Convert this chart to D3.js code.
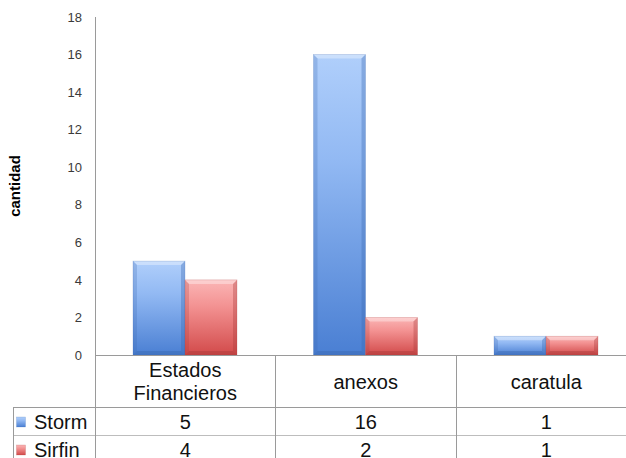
<!DOCTYPE html>
<html><head><meta charset="utf-8">
<script src="https://cdn.jsdelivr.net/npm/d3@7"></script>
<style>body{margin:0;background:#fff}svg{display:block;font-family:"Liberation Sans",Arial,sans-serif}</style>
</head><body><svg id="c" width="626" height="458"></svg>
<script>
const categories = ["Estados Financieros", "anexos", "caratula"];
const categoryLines = [["Estados", "Financieros"], ["anexos"], ["caratula"]];
const seriesNames = ["Storm", "Sirfin"];
const stormValues = [5, 16, 1];
const sirfinValues = [4, 2, 1];
const yTicks = [0, 2, 4, 6, 8, 10, 12, 14, 16, 18];
const yTitle = "cantidad";

(function () {
const svg = d3.select("#c");
const pLeft = 95, pTop = 17, pBottom = 355, catW = 180.5;
const pRight = pLeft + catW * categories.length;
const y = d3.scaleLinear().domain([0, 18]).range([pBottom, pTop]);
const x0 = d3.scaleBand().domain(categories).range([pLeft, pRight]).paddingInner(0).paddingOuter(0);
const x1 = d3.scaleBand().domain(seriesNames).range([38, 142]).padding(0);
const series = [
  {name: "Storm", values: stormValues, c: ["#b0cffb", "#92b9f3", "#4a7fd3"], edge: "#3a68b0"},
  {name: "Sirfin", values: sirfinValues, c: ["#fbb6b6", "#f39292", "#d24a4a"], edge: "#a83a3a"}
];
const defs = svg.append("defs");
series.forEach((s, i) => {
  const g = defs.append("linearGradient").attr("id", "g" + i).attr("x1", 0).attr("x2", 0).attr("y1", 0).attr("y2", 1);
  g.append("stop").attr("offset", "0%").attr("stop-color", s.c[0]);
  g.append("stop").attr("offset", "35%").attr("stop-color", s.c[1]);
  g.append("stop").attr("offset", "100%").attr("stop-color", s.c[2]);
});

const yAxis = d3.axisLeft(y).tickValues(yTicks).tickSize(0).tickPadding(13);
const ga = svg.append("g").attr("transform", `translate(${pLeft},0)`).call(yAxis);
ga.select(".domain").attr("stroke", "#8c8c8c");
ga.selectAll("text").attr("font-size", 13).attr("fill", "#3a3a3a").attr("font-family", "'Liberation Sans',Arial,sans-serif");

svg.append("text").attr("transform", `translate(20,${(pTop + pBottom) / 2}) rotate(-90)`)
  .attr("text-anchor", "middle").attr("font-weight", "bold").attr("font-size", 15).text(yTitle);

const bev = 4;
series.forEach((s, si) => {
  categories.forEach((cat, ci) => {
    const v = s.values[ci];
    const bx = x0(cat) + x1(s.name), bw = x1.bandwidth();
    const by = y(v), bh = pBottom - by;
    const g = svg.append("g");
    g.append("rect").attr("x", bx).attr("y", by).attr("width", bw).attr("height", bh).attr("fill", `url(#g${si})`);
    g.append("polygon").attr("points", [[bx, by], [bx + bw, by], [bx + bw - bev, by + bev], [bx + bev, by + bev]].join(" "))
      .attr("fill", "#fff").attr("opacity", 0.35);
    g.append("polygon").attr("points", [[bx, by], [bx + bev, by + bev], [bx + bev, pBottom - bev], [bx, pBottom]].join(" "))
      .attr("fill", s.edge).attr("opacity", 0.25);
    g.append("polygon").attr("points", [[bx + bw, by], [bx + bw - bev, by + bev], [bx + bw - bev, pBottom - bev], [bx + bw, pBottom]].join(" "))
      .attr("fill", s.edge).attr("opacity", 0.35);
    g.append("polygon").attr("points", [[bx, pBottom], [bx + bev, pBottom - bev], [bx + bw - bev, pBottom - bev], [bx + bw, pBottom]].join(" "))
      .attr("fill", s.edge).attr("opacity", 0.45);
    g.append("rect").attr("x", bx).attr("y", by).attr("width", bw).attr("height", bh)
      .attr("fill", "none").attr("stroke", s.edge).attr("stroke-opacity", 0.35).attr("stroke-width", 0.6);
  });
});

const rowY = [355, 407, 435, 463];
const tableLeft = 13;
const lc = "#9a9a9a";
const tg = svg.append("g").attr("stroke", lc).attr("stroke-width", 1).attr("shape-rendering", "crispEdges");
tg.append("line").attr("x1", pLeft).attr("x2", pRight).attr("y1", rowY[0]).attr("y2", rowY[0]);
tg.append("line").attr("x1", tableLeft).attr("x2", pRight).attr("y1", rowY[1]).attr("y2", rowY[1]);
tg.append("line").attr("x1", tableLeft).attr("x2", pRight).attr("y1", rowY[2]).attr("y2", rowY[2]).attr("stroke", "#bdbdbd");
tg.append("line").attr("x1", tableLeft).attr("x2", tableLeft).attr("y1", rowY[1]).attr("y2", rowY[3]);
categories.forEach((cat, ci) => {
  const xx = x0(cat);
  tg.append("line").attr("x1", xx).attr("x2", xx).attr("y1", ci === 0 ? pTop : rowY[0]).attr("y2", rowY[3]);
});
tg.append("line").attr("x1", pRight).attr("x2", pRight).attr("y1", rowY[0]).attr("y2", rowY[3]);

categories.forEach((cat, ci) => {
  const cx = x0(cat) + x0.bandwidth() / 2;
  const lines = categoryLines[ci];
  const t = svg.append("text").attr("text-anchor", "middle").attr("font-size", 20).attr("fill", "#111");
  const startY = lines.length === 1 ? 389 : 377;
  lines.forEach((l, li) => t.append("tspan").attr("x", cx).attr("y", startY + li * 23).text(l));
});

series.forEach((s, si) => {
  const baseline = si === 0 ? 429 : 457;
  svg.append("rect").attr("x", 16.5).attr("y", baseline - 12).attr("width", 9).attr("height", 10)
    .attr("fill", `url(#g${si})`).attr("stroke", s.edge).attr("stroke-opacity", 0.4).attr("stroke-width", 0.5);
  svg.append("text").attr("x", 34).attr("y", baseline).attr("font-size", 20).attr("fill", "#111").text(s.name);
  categories.forEach((cat, ci) => {
    svg.append("text").attr("x", x0(cat) + x0.bandwidth() / 2).attr("y", baseline)
      .attr("text-anchor", "middle").attr("font-size", 20).attr("fill", "#111").text(s.values[ci]);
  });
});
})();
</script></body></html>
